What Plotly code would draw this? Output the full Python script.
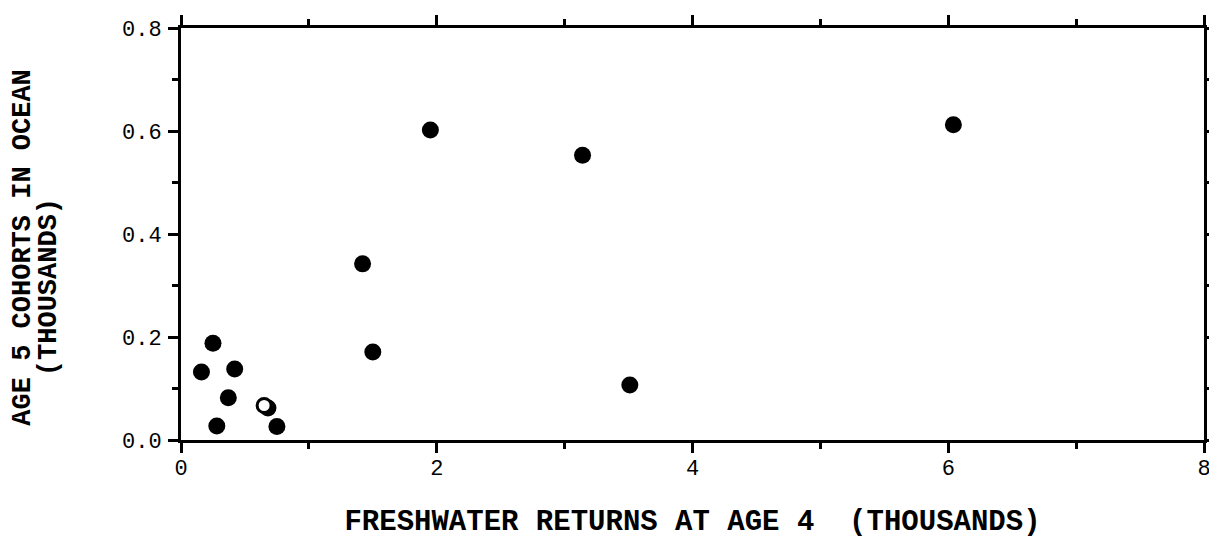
import plotly.graph_objects as go

# -- Data (thousands) -- #
fresh_x = [0.16, 0.25, 0.42, 0.37, 0.28, 0.75, 0.68, 1.42, 1.50, 1.95, 3.14, 3.51, 6.04]
ocean_y = [0.132, 0.188, 0.138, 0.082, 0.027, 0.026, 0.062, 0.342, 0.171, 0.602, 0.553, 0.107, 0.612]
open_x = [0.65]
open_y = [0.067]

x_ticks = [0, 2, 4, 6, 8]
y_ticks = [0.0, 0.2, 0.4, 0.6, 0.8]

mono = 'Liberation Mono, Courier New, monospace'

fig = go.Figure(data=[
    go.Scatter(x=fresh_x, y=ocean_y, mode='markers', cliponaxis=False,
               marker={'color': 'black', 'size': 17}),
    go.Scatter(x=open_x, y=open_y, mode='markers', cliponaxis=False,
               marker={'color': 'white', 'size': 14, 'line': {'color': 'black', 'width': 3}})
])

# Plot configuration (page body adds an 8px offset)
fig.update_layout(width=1209, height=531, showlegend=False,
                  plot_bgcolor='white', paper_bgcolor='white',
                  margin=dict(l=173, r=13, t=20, b=99),
                  font=dict(family=mono, size=22, color='black'))

fig.update_xaxes(range=[0, 8], tickvals=x_ticks, ticktext=[str(v) for v in x_ticks],
                 automargin=False, tickfont=dict(size=22), ticklabelstandoff=-4,
                 showgrid=False, zeroline=False, showline=True, linewidth=3, linecolor='black',
                 mirror='ticks', ticks='outside', ticklen=10, tickwidth=3, tickcolor='black',
                 minor=dict(dtick=1, ticks='outside', ticklen=6, tickwidth=3, tickcolor='black'),
                 title=dict(text='<b>FRESHWATER RETURNS AT AGE 4  (THOUSANDS)</b>',
                            font=dict(family=mono, size=29), standoff=30))

fig.update_yaxes(range=[0, 0.8], tickvals=y_ticks, ticktext=['%.1f' % v for v in y_ticks],
                 automargin=False, tickfont=dict(size=22), ticklabelstandoff=2,
                 showgrid=False, zeroline=False, showline=True, linewidth=3, linecolor='black',
                 mirror='ticks', ticks='outside', ticklen=10, tickwidth=3, tickcolor='black',
                 minor=dict(dtick=0.1, ticks='outside', ticklen=6, tickwidth=3, tickcolor='black'))

# Two-line vertical axis title
fig.add_annotation(text='<b>AGE 5 COHORTS IN OCEAN</b>', textangle=-90, showarrow=False,
                   xref='paper', yref='paper', x=-0.154, y=0.468, xanchor='center', yanchor='middle',
                   font=dict(family=mono, size=27))
fig.add_annotation(text='<b>(THOUSANDS)</b>', textangle=-90, showarrow=False,
                   xref='paper', yref='paper', x=-0.129, y=0.371, xanchor='center', yanchor='middle',
                   font=dict(family=mono, size=27))

fig.write_html('out.html')
